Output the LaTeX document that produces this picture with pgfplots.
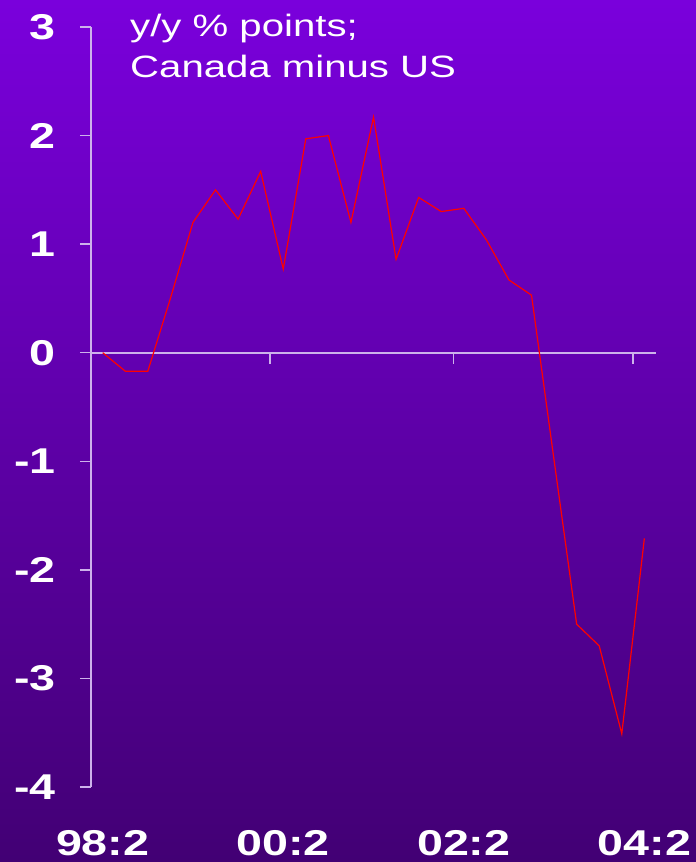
\documentclass[border=0pt]{standalone}
\usepackage{pgfplots}
\pgfplotsset{compat=1.18}
\usepackage{fontspec}
\setmainfont{Liberation Sans}
\definecolor{bgTop}{RGB}{122,0,220}
\definecolor{bgBot}{RGB}{66,0,116}
\definecolor{axLine}{RGB}{205,178,235}
\newcommand{\wide}[1]{\scalebox{1.3}[1]{#1}}
\begin{document}
\begin{tikzpicture}
\shade[top color=bgTop, bottom color=bgBot] (0,0) rectangle (696bp,862bp);
\begin{axis}[
  at={(91bp,75bp)}, anchor=south west,
  scale only axis, width=565bp, height=760bp,
  xmin=-0.518, xmax=24.516, ymin=-4, ymax=3,
  axis x line*=bottom, axis y line*=left,
  x axis line style={draw=none},
  y axis line style={draw=axLine, line width=1.6bp},
  xtick={0,8,16,24},
  xticklabels={\wide{98:2},\wide{00:2},\wide{02:2},\wide{04:2}},
  xtick style={draw=none},
  xticklabel style={anchor=north, inner sep=0pt, yshift=-32bp, text=white,
    font=\fontsize{36}{40}\selectfont\bfseries},
  ytick={-4,-3,-2,-1,0,1,2,3},
  yticklabel={\wide{\pgfmathprintnumber{\tick}}},
  yticklabel style={anchor=east, inner sep=0pt, xshift=-24bp, text=white,
    font=\fontsize{36}{40}\selectfont\bfseries},
  /pgf/number format/assume math mode=true,
  tick align=outside, major tick length=11bp,
  ytick style={draw=axLine, line width=1.4bp},
  clip=false,
]
% zero line and its tick marks
\draw[axLine, line width=2bp] (axis cs:-0.518,0) -- (axis cs:24.516,0);
\draw[axLine, line width=1.6bp] (axis cs:7.4,0) -- ([yshift=-11bp]axis cs:7.4,0);
\draw[axLine, line width=1.6bp] (axis cs:15.55,0) -- ([yshift=-11bp]axis cs:15.55,0);
\draw[axLine, line width=1.6bp] (axis cs:23.5,0) -- ([yshift=-11bp]axis cs:23.5,0);
\addplot[red, line width=1.2bp, mark=none] coordinates {
  (0,0.00) (1,-0.17) (2,-0.17) (3,0.50) (4,1.20) (5,1.50) (6,1.23)
  (7,1.67) (8,0.77) (9,1.97) (10,2.00) (11,1.20) (12,2.17) (13,0.86)
  (14,1.43) (15,1.30) (16,1.33) (17,1.04) (18,0.67) (19,0.53) (20,-0.99)
  (21,-2.50) (22,-2.70) (23,-3.51) (24,-1.71)
};
\end{axis}
\node[anchor=base west, inner sep=0pt, text=white, font=\fontsize{31}{34}\selectfont]
  at (130bp,825bp) {\wide{y/y \% points;}};
\node[anchor=base west, inner sep=0pt, text=white, font=\fontsize{31}{34}\selectfont]
  at (130bp,784bp) {\wide{Canada minus US}};
\end{tikzpicture}
\end{document}
